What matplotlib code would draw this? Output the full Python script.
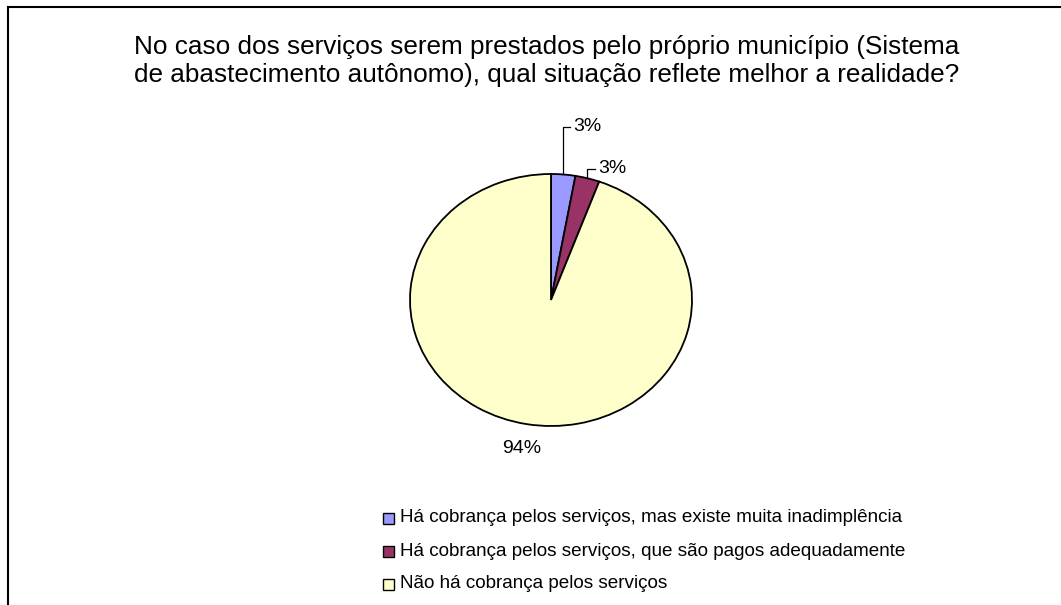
import matplotlib
matplotlib.use("Agg")
import matplotlib.pyplot as plt
import numpy as np
from matplotlib.patches import Rectangle

categories = [
    "Há cobrança pelos serviços, mas existe muita inadimplência",
    "Há cobrança pelos serviços, que são pagos adequadamente",
    "Não há cobrança pelos serviços",
]
values = [1, 1, 34]
labels = ["3%", "3%", "94%"]
colors = ["#9999FF", "#993366", "#FFFFCC"]
title_lines = [
    "No caso dos serviços serem prestados pelo próprio município (Sistema",
    "de abastecimento autônomo), qual situação reflete melhor a realidade?",
]

plt.rcParams['font.family'] = ['Liberation Sans', 'DejaVu Sans']

W, H = 1061, 605
fig = plt.figure(figsize=(W / 100, H / 100), dpi=100)

# frame (top and left visible)
fig.add_artist(plt.Line2D([7.5 / W, 1.0], [1 - 6.5 / H, 1 - 6.5 / H], color="black", lw=1.5))
fig.add_artist(plt.Line2D([7.5 / W, 7.5 / W], [0, 1 - 6.5 / H], color="black", lw=1.5))

for line, y in zip(title_lines, [47, 75]):
    fig.text(547 / W, 1 - y / H, line, ha="center", va="center", fontsize=18.8)

cx, cy, rx, ry = 551, 300, 141, 126
ax = fig.add_axes([(cx - rx) / W, 1 - (cy + ry) / H, 2 * rx / W, 2 * ry / H])
wedges, _ = ax.pie(values, startangle=90, counterclock=False, colors=colors,
                   wedgeprops=dict(edgecolor="black", linewidth=1.3))
ax.set_aspect("auto")
ax.set_xlim(-1, 1)
ax.set_ylim(-1, 1)
ax.axis("off")

# label placement (leader lines)
label_offsets = [(1.376, 0.05), (1.04, 0.055), None]
for w, lab, off in zip(wedges, labels, label_offsets):
    mid = np.deg2rad((w.theta1 + w.theta2) / 2)
    px, py = np.cos(mid), np.sin(mid)
    if off is not None:
        ty, dx = off
        ax.plot([px, px, px + dx], [py, ty, ty], color="black", lw=0.9, clip_on=False)
        ax.text(px + dx + 0.02, ty, lab, ha="left", va="center", fontsize=14)
    else:
        ax.text(1.2 * px, 1.2 * py, lab, ha="center", va="center", fontsize=14)

# legend
ys = [518, 551, 584]
for c, cat, y in zip(colors, categories, ys):
    fig.add_artist(Rectangle(((383) / W, 1 - (y + 5.5) / H), 11 / W, 11 / H,
                             facecolor=c, edgecolor="black", lw=1.0))
    fig.text(400 / W, 1 - y / H, cat, ha="left", va="center", fontsize=13.6)

fig.savefig("out.png", dpi=100)
